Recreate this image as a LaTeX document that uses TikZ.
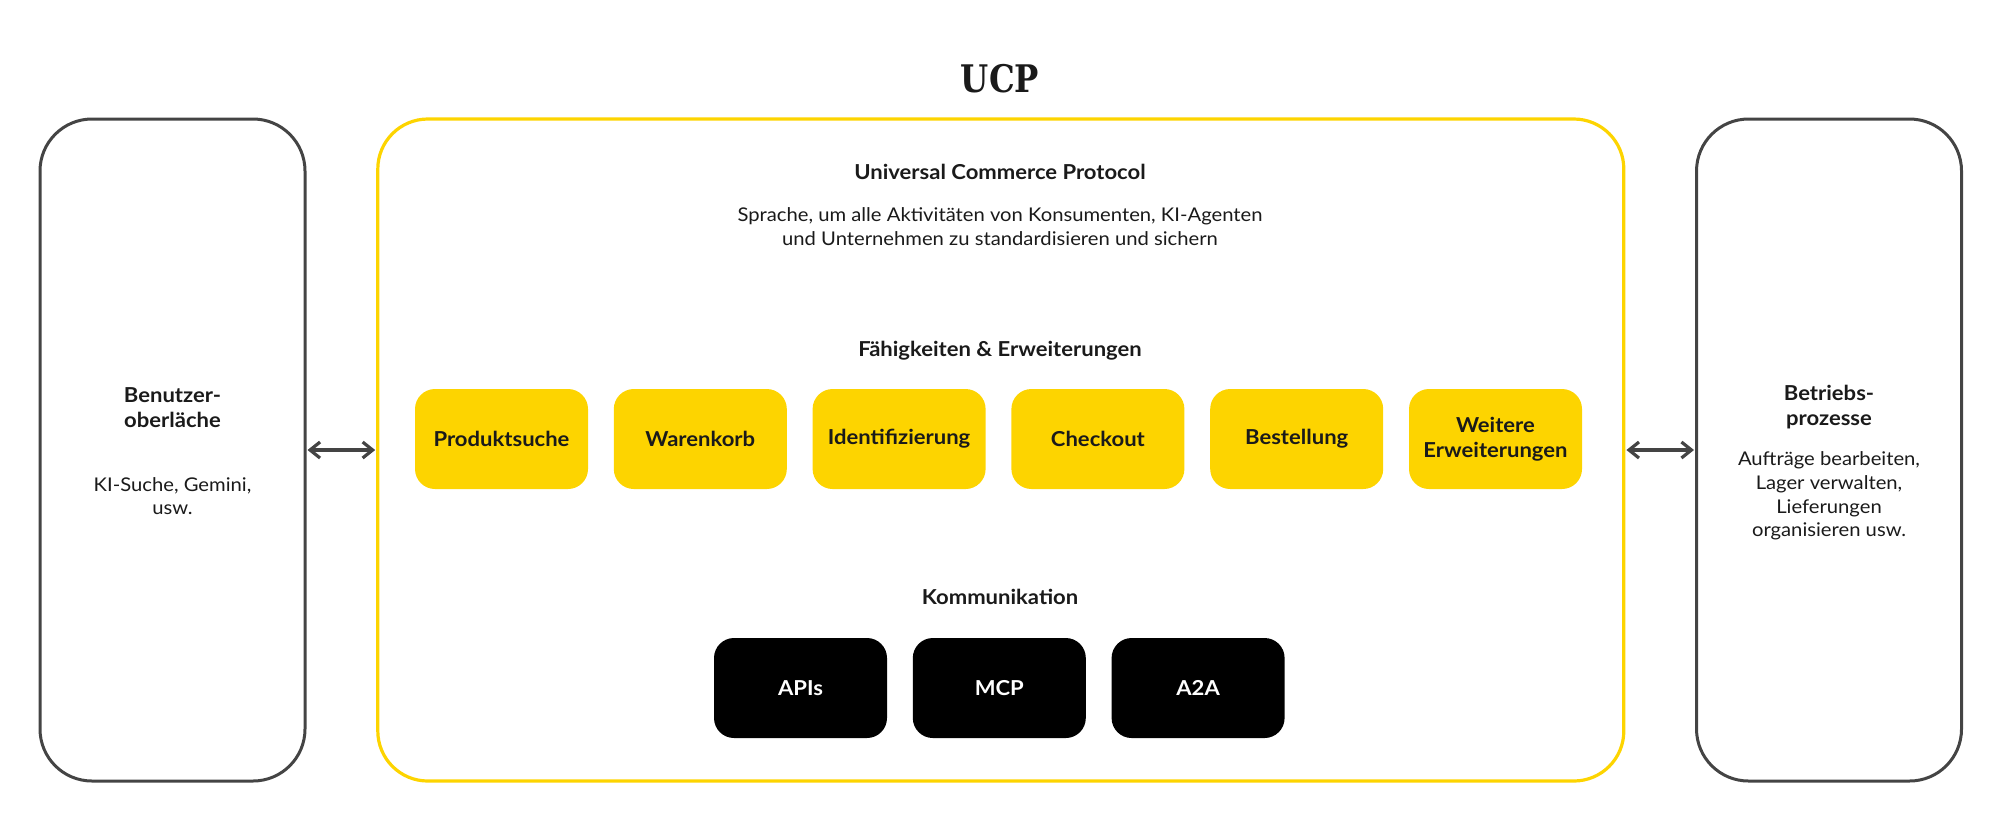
\documentclass[tikz,border=0pt]{standalone}
\usepackage{fontspec}
\setmainfont{Lato}[FakeStretch=1.07]
\newfontfamily\slabfont[FakeStretch=0.85]{DejaVu Serif}
\usetikzlibrary{arrows.meta}
\definecolor{ucpyellow}{HTML}{FDD400}
\definecolor{framegray}{HTML}{444444}
\definecolor{textdark}{HTML}{1A1A1A}
\tikzset{
  sidebox/.style={draw=framegray, line width=1.5pt, rounded corners=26pt,
    minimum width=132.5pt, minimum height=331pt, inner sep=0pt},
  mainbox/.style={draw=ucpyellow, line width=1.6pt, rounded corners=25pt,
    minimum width=623pt, minimum height=331pt, inner sep=0pt},
  capbox/.style={fill=ucpyellow, rounded corners=10pt, minimum width=86.5pt,
    minimum height=50pt, inner sep=0pt, align=center, text=textdark,
    font=\fontsize{10.3}{12.5}\selectfont\bfseries},
  combox/.style={fill=black, rounded corners=10pt, minimum width=86.5pt,
    minimum height=50pt, inner sep=0pt, align=center, text=white,
    font=\fontsize{10.3}{12.5}\selectfont\bfseries},
  heading/.style={inner sep=0pt, align=center, text=textdark,
    font=\fontsize{10.3}{12.5}\selectfont\bfseries},
  bodytext/.style={inner sep=0pt, align=center, text=textdark,
    font=\fontsize{9.45}{11.8}\selectfont},
  biarrow/.style={{Straight Barb[length=5pt,width=8pt]}-{Straight Barb[length=5pt,width=8pt]},
    draw=framegray, line width=1.6pt, shorten <=0.5pt, shorten >=0.5pt}
}
\begin{document}
\begin{tikzpicture}[x=0.5pt,y=-0.5pt]
\useasboundingbox (0,0) rectangle (2000,821);
% title
\node[inner sep=0pt, text=textdark, font=\slabfont\bfseries\fontsize{19}{22}\selectfont] (title) at (1000,79) {UCP};
% main frames
\node[sidebox] (ui) at (172.5,450) {};
\node[mainbox] (ucp) at (1000.8,450) {};
\node[sidebox] (ops) at (1829,450) {};
% left box texts
\node[heading] (uihead) at (172.5,407.5) {Benutzer-\\oberläche};
\node[bodytext] (uibody) at (172.5,496) {KI-Suche, Gemini,\\usw.};
% right box texts
\node[heading] (opshead) at (1829,407.5) {Betriebs-\\prozesse};
\node[bodytext] (opsbody) at (1829,496) {Aufträge bearbeiten,\\Lager verwalten,\\Lieferungen\\organisieren usw.};
% main texts
\node[heading] (ucphead) at (1000,172) {Universal Commerce Protocol};
\node[bodytext] (ucpbody) at (1000,226.5) {Sprache, um alle Aktivitäten von Konsumenten, KI-Agenten\\und Unternehmen zu standardisieren und sichern};
\node[heading] (caphead) at (1000,351) {Fähigkeiten \& Erweiterungen};
\node[heading] (comhead) at (1000,597) {Kommunikation};
% capability boxes
\node[capbox] (c1) at (501.5,439) {Produktsuche};
\node[capbox] (c2) at (700.3,439) {Warenkorb};
\node[capbox] (c3) at (899.1,439) {Identifizierung};
\node[capbox] (c4) at (1097.9,439) {Checkout};
\node[capbox] (c5) at (1296.7,439) {Bestellung};
\node[capbox] (c6) at (1495.5,439) {Weitere\\Erweiterungen};
% communication boxes
\node[combox] (k1) at (800.5,688) {APIs};
\node[combox] (k2) at (999.3,688) {MCP};
\node[combox] (k3) at (1198.1,688) {A2A};
% arrows
\draw[biarrow] (ui.east) -- (ucp.west);
\draw[biarrow] (ucp.east) -- (ops.west);
\end{tikzpicture}
\end{document}
